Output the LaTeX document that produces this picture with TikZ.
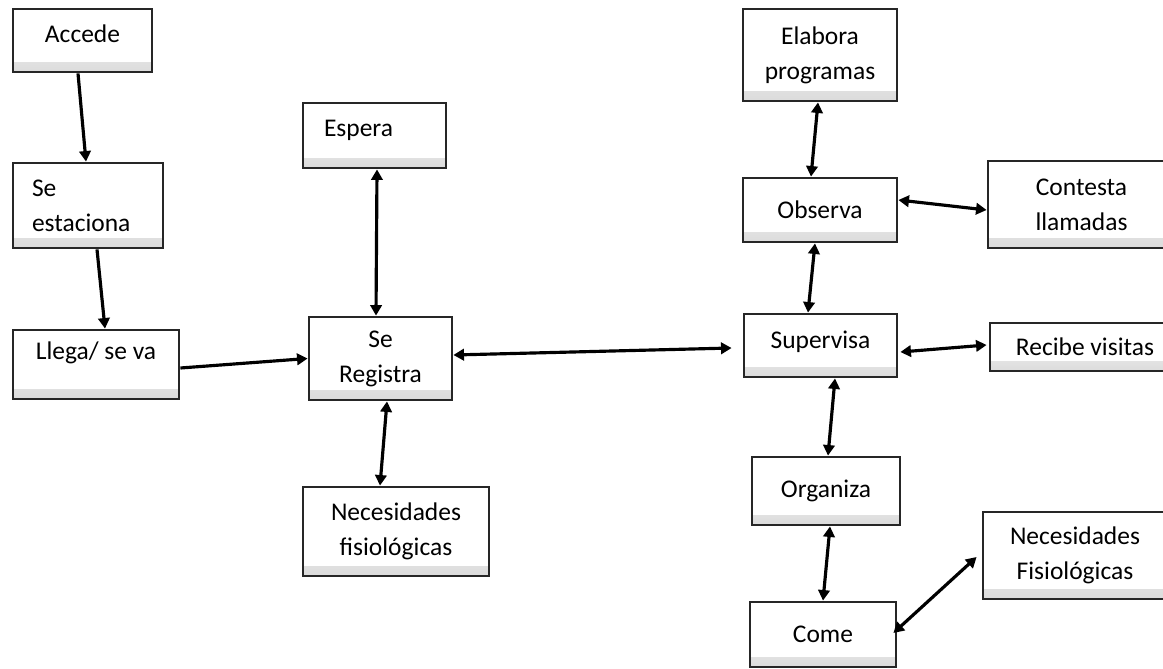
\documentclass[tikz,border=0pt]{standalone}
\usepackage{fontspec}
\setmainfont{Carlito}
\usepackage{tikz}
\usetikzlibrary{arrows.meta,calc}

\tikzset{
  box/.style 2 args={draw=black!85, line width=1.6pt, fill=white, rectangle,
    minimum width=#1*0.02cm, minimum height=#2*0.02cm, align=center,
    font=\fontsize{14.5}{20}\selectfont,
    path picture={\shade[top color=white, bottom color=black!14]
      ([yshift=0.2cm]path picture bounding box.south west) rectangle
      (path picture bounding box.south east);}},
  lbox/.style 2 args={box={#1}{#2}, align=left, inner xsep=19*0.02cm,
    text width=(#1-38)*0.02cm},
  arr/.style={-{Triangle[length=6pt,width=6.5pt]}, line width=1.8pt},
  darr/.style={{Triangle[length=6pt,width=6.5pt]}-{Triangle[length=6pt,width=6.5pt]}, line width=1.8pt}
}

\begin{document}
\begin{tikzpicture}[x=0.02cm, y=-0.02cm]
        \useasboundingbox (0,0) rectangle (1163,669);

        % Arrival column
        \node[box={139}{63}, text depth=8pt] (acc) at (82.5, 40.5) {Accede};
        \node[lbox={150}{85}] (est) at (88, 205.5) {Se\\estaciona};
        \node[box={166}{69}, text depth=16pt] (lle) at (96, 364.5) {Llega/ se va};

        % Registration
        \node[box={143}{83}] (reg) at (380.5, 358.5) {Se\\Registra};
        \node[lbox={139}{65}, inner xsep=21*0.02cm, text depth=8pt] (esp) at (374.5, 135.5) {Espera};
        \node[box={186}{89}] (nec) at (396, 531.5) {Necesidades\\fisiológicas};

        % Supervision column
        \node[box={154}{92}] (ela) at (820, 55) {Elabora\\programas};
        \node[box={154}{64}] (obs) at (820, 210) {Observa};
        \node[box={153}{63}, text depth=6pt] (sup) at (820.5, 345.5) {Supervisa};
        \node[box={148}{68}] (org) at (826, 491) {Organiza};
        \node[box={146}{65}] (com) at (823, 634.5) {Come};

        % Right side (cut by the page edge)
        \node[box={187}{87}] (con) at (1081.5, 204.5) {Contesta\\llamadas};
        \node[box={190}{48}] (rec) at (1085, 347) {Recibe visitas};
        \node[box={184}{87}] (nef) at (1075, 555.5) {Necesidades\\Fisiológicas};

        % One-way arrows
        \draw[arr] ($(acc.south)+(-4.5,0)$) -- ($(est.north)+(-2,0)$);
        \draw[arr] ($(est.south)+(9,0)$) -- ($(lle.north)+(9,0)$);
        \draw[arr] ($(lle.east)+(0,3.5)$) -- (reg.west);

        % Two-way arrows
        \draw[darr] ($(reg.north)+(-4.5,0)$) -- ($(esp.south)+(2.5,0)$);
        \draw[darr] ($(reg.south)+(6.5,0)$) -- ($(nec.north)+(-16,0)$);
        \draw[darr] ($(reg.east)+(0,-3.5)$) -- ($(sup.west)+(-11,2.5)$);
        \draw[darr] ($(ela.south)+(-2,0)$) -- ($(obs.north)+(-9,0)$);
        \draw[darr] ($(obs.east)+(0,-10)$) -- ($(con.west)+(0,5.5)$);
        \draw[darr] ($(obs.south)+(-5,0)$) -- ($(sup.north)+(-12.5,0)$);
        \draw[darr] ($(sup.east)+(2,6.5)$) -- ($(rec.west)+(-2,-2)$);
        \draw[darr] ($(sup.south)+(14.5,0)$) -- ($(org.north)+(2,0)$);
        \draw[darr] ($(org.south)+(4,0)$) -- (com.north);
        \draw[darr] ($(com.east)+(-4,-1.5)$) -- ($(nef.west)+(-5,1.5)$);
    \end{tikzpicture}
\end{document}
